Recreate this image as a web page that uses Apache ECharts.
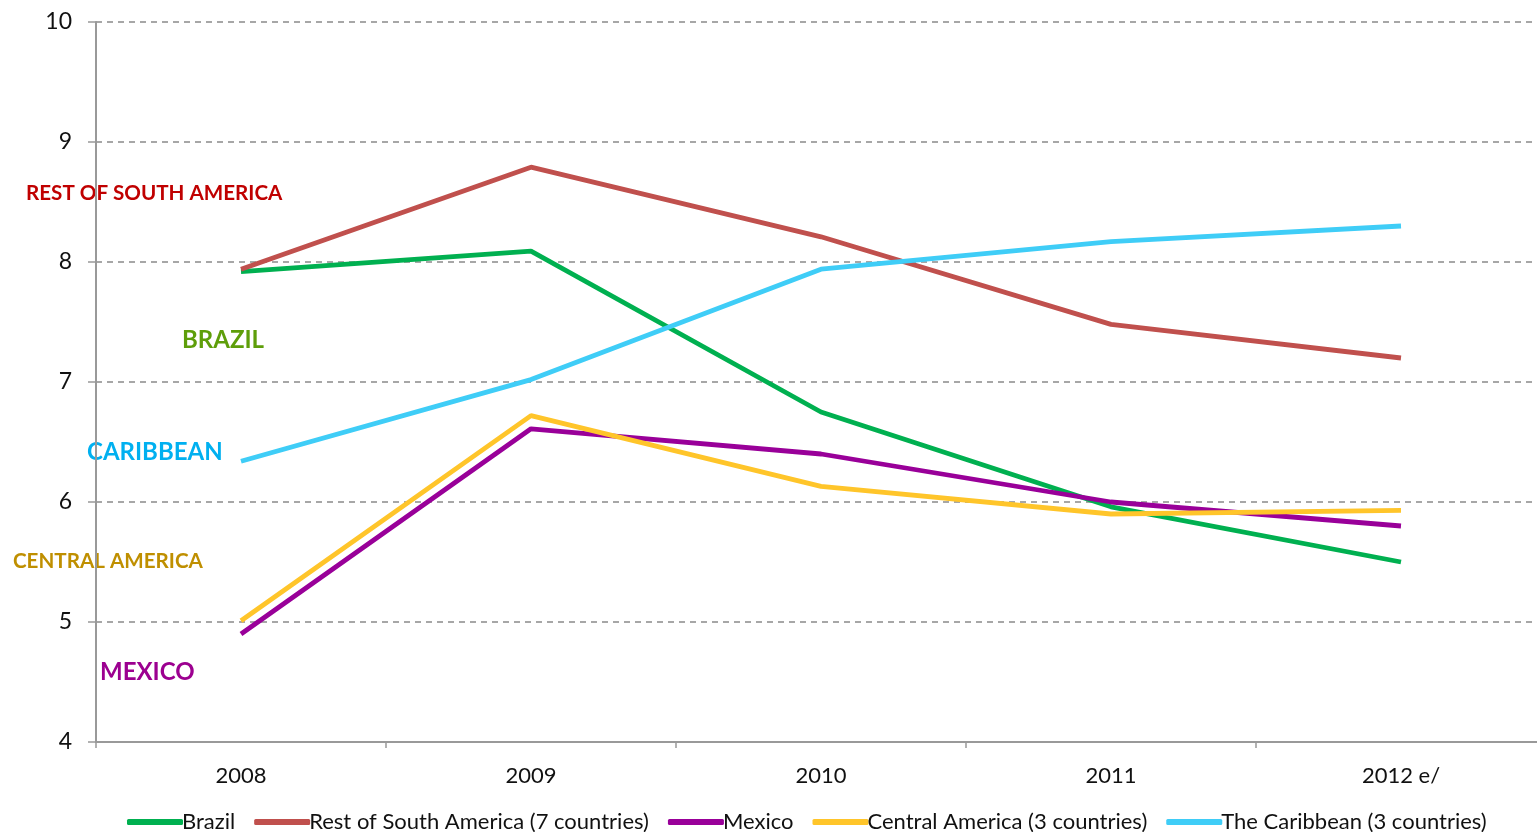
<!DOCTYPE html>
<html>
<head>
<meta charset="utf-8">
<script src="https://cdn.jsdelivr.net/npm/echarts@6/dist/echarts.min.js"></script>
<style>
  html, body { margin: 0; padding: 0; background: #fff; overflow: hidden; }
  #chart { width: 1546px; height: 832px; }
</style>
</head>
<body>
<div id="chart"></div>
<script>
var years = ['2008', '2009', '2010', '2011', '2012 e/'];

var brazil = [7.92, 8.09, 6.75, 5.96, 5.5];
var restSouthAmerica = [7.94, 8.79, 8.21, 7.48, 7.2];
var mexico = [4.9, 6.61, 6.4, 6.0, 5.8];
var centralAmerica = [5.01, 6.72, 6.13, 5.9, 5.93];
var caribbean = [6.34, 7.02, 7.94, 8.17, 8.3];

var seriesNames = ['Brazil', 'Rest of South America (7 countries)', 'Mexico', 'Central America (3 countries)', 'The Caribbean (3 countries)'];
var seriesColors = ['#00B050', '#C0504D', '#990099', '#FFC52A', '#3FCDF7'];
var seriesData = [brazil, restSouthAmerica, mexico, centralAmerica, caribbean];

var font = 'Lato, "Open Sans", sans-serif';

var chartDom = document.getElementById('chart');
var myChart = echarts.init(chartDom);

var option = {
  animation: false,
  textStyle: { fontFamily: font },
  grid: { left: 96, top: 22, width: 1450, height: 720, containLabel: false },
  legend: {
    top: 806,
    left: 122,
    itemWidth: 56,
    itemHeight: 6,
    itemGap: 19,
    icon: 'roundRect',
    textStyle: { fontSize: 22, color: '#111', fontFamily: font, padding: [0, 0, 0, -6] },
    data: seriesNames
  },
  xAxis: {
    type: 'category',
    data: years,
    boundaryGap: true,
    axisLine: { lineStyle: { color: '#999', width: 2 } },
    axisTick: { show: true, length: 6, lineStyle: { color: '#999', width: 1.5 } },
    axisLabel: { fontSize: 22, color: '#111', margin: 23, fontFamily: font }
  },
  yAxis: {
    type: 'value',
    min: 4,
    max: 10,
    interval: 1,
    axisLine: { show: true, lineStyle: { color: '#999', width: 2 } },
    axisTick: { show: true, length: 8, lineStyle: { color: '#999', width: 1.5 } },
    axisLabel: { fontSize: 23, color: '#111', margin: 24, fontFamily: font },
    splitLine: { lineStyle: { color: '#8a8a8a', type: [6, 5], width: 1.5 } }
  },
  series: seriesNames.map(function (name, i) {
    return {
      name: name,
      type: 'line',
      data: seriesData[i],
      symbol: 'none',
      color: seriesColors[i],
      lineStyle: { width: 4.8, color: seriesColors[i] }
    };
  }),
  graphic: [
    { type: 'text', left: 26, top: 183, style: { text: 'REST OF SOUTH AMERICA', fill: '#C00000', font: 'bold 20.6px ' + font } },
    { type: 'text', left: 182, top: 328, style: { text: 'BRAZIL', fill: '#5E9E0A', font: 'bold 24px ' + font } },
    { type: 'text', left: 87, top: 440, style: { text: 'CARIBBEAN', fill: '#00B0F0', font: 'bold 24px ' + font } },
    { type: 'text', left: 13, top: 551, style: { text: 'CENTRAL AMERICA', fill: '#BF8F00', font: 'bold 20.6px ' + font } },
    { type: 'text', left: 100, top: 660, style: { text: 'MEXICO', fill: '#9C0090', font: 'bold 24px ' + font } }
  ]
};

myChart.setOption(option);
</script>
</body>
</html>
